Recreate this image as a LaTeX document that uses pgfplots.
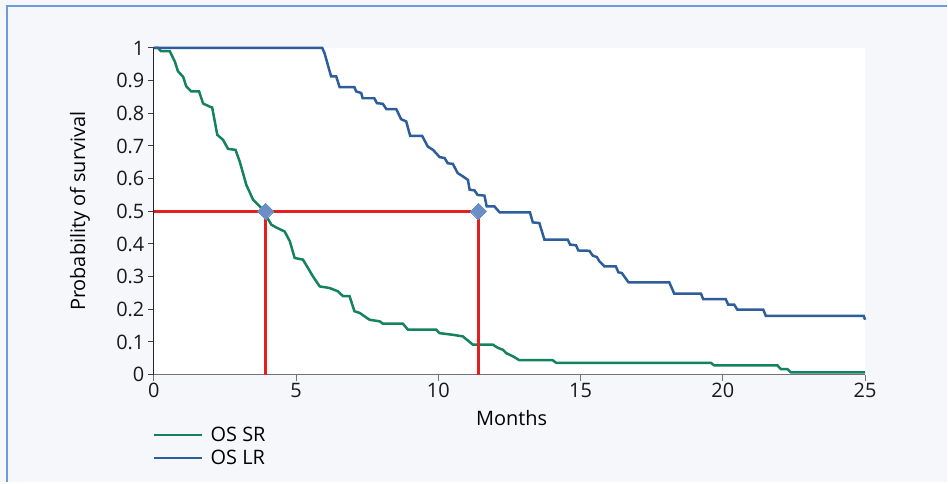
\documentclass[border=0pt]{standalone}
\usepackage{fontspec}
\setmainfont{Open Sans}
\usepackage{pgfplots}
\pgfplotsset{compat=1.18}
\definecolor{bgc}{HTML}{F6F7FB}
\definecolor{framec}{HTML}{6C9BD8}
\definecolor{srgreen}{HTML}{14825F}
\definecolor{lrblue}{HTML}{2D5D9B}
\definecolor{redl}{HTML}{E3201F}
\definecolor{diam}{HTML}{6B8EC6}
\begin{document}
\begin{tikzpicture}
\fill[bgc] (0bp,0bp) rectangle (948bp,483bp);
\draw[framec, line width=2bp] (7bp,0bp) -- (7bp,477bp) -- (948bp,477bp);
\begin{axis}[
  at={(154bp,108bp)}, anchor=south west,
  scale only axis, width=712bp, height=327bp,
  xmin=0, xmax=25, ymin=0, ymax=1,
  axis x line*=bottom, axis y line*=left,
  axis background/.style={fill=white},
  x axis line style={draw=black!55, line width=1.2bp},
  y axis line style={draw=black!85, line width=1.2bp},
  xtick={0,5,10,15,20,25},
  ytick={0,0.1,0.2,0.3,0.4,0.5,0.6,0.7,0.8,0.9,1},
  yticklabels={0,0.1,0.2,0.3,0.4,0.5,0.6,0.7,0.8,0.9,1},
  tick align=outside,
  major tick length=6bp,
  x tick style={draw=black!55, line width=1bp},
  y tick style={draw=black!75, line width=1bp},
  minor tick num=0,
  /pgf/number format/assume math mode=true,
  tick label style={font=\fontsize{20}{24}\selectfont, text=black!90},
  xticklabel style={yshift=1bp},
  xlabel={Months},
  ylabel={Probability of survival},
  xlabel style={at={(rel axis cs:0.503,-0.1315)}, anchor=center, font=\fontsize{20}{24}\selectfont},
  ylabel style={at={(rel axis cs:-0.104,0.5)}, anchor=center, rotate=0, font=\fontsize{20}{24}\selectfont},
  legend style={draw=none, fill=none, at={(rel axis cs:-0.006,-0.149)}, anchor=north west,
    font=\fontsize{20}{24}\selectfont, row sep=4bp,
    nodes={inner sep=1.5bp},
    /tikz/every odd column/.style={column sep=6bp}},
  legend cell align=left,
  legend image code/.code={\draw[#1] (0bp,0bp) -- (48bp,0bp);},
  clip=false,
]
\addplot[srgreen, line width=2.5bp] coordinates {
(0,1.0) (0.15,1.0) (0.25,0.99) (0.56,0.99) (0.74,0.958) (0.85,0.928) (1.03,0.912)
(1.14,0.882) (1.32,0.867) (1.59,0.867) (1.73,0.83) (1.97,0.82) (2.05,0.818)
(2.23,0.734) (2.43,0.719) (2.61,0.691) (2.87,0.688) (3.02,0.652) (3.25,0.581)
(3.49,0.535) (3.72,0.515) (3.93,0.496) (3.96,0.484) (4.13,0.459) (4.31,0.45)
(4.6,0.438) (4.78,0.408) (4.95,0.357) (5.24,0.352) (5.42,0.326) (5.59,0.301)
(5.83,0.27) (6.18,0.265) (6.47,0.255) (6.65,0.24) (6.88,0.24) (7.05,0.194)
(7.23,0.189) (7.58,0.168) (7.94,0.163) (8.05,0.156) (8.75,0.156) (8.93,0.138)
(9.92,0.138) (10.04,0.127) (10.5,0.122) (10.86,0.117) (11.21,0.092) (11.91,0.092)
(12.09,0.082) (12.27,0.076) (12.38,0.066) (12.5,0.061) (12.62,0.056) (12.85,0.044)
(14.02,0.044) (14.14,0.036) (19.58,0.036) (19.7,0.028) (21.92,0.028) (22.04,0.017)
(22.27,0.017) (22.39,0.007) (25,0.007)
};
\addlegendentry{OS SR}
\addplot[lrblue, line width=2.5bp] coordinates {
(0,1.0) (5.92,1.0) (6.0,0.984) (6.23,0.913) (6.41,0.913) (6.53,0.88) (7.05,0.88)
(7.11,0.867) (7.29,0.862) (7.34,0.846) (7.75,0.846) (7.84,0.831) (8.05,0.829)
(8.17,0.813) (8.52,0.813) (8.69,0.782) (8.87,0.775) (9.01,0.731) (9.43,0.731)
(9.63,0.698) (9.81,0.688) (9.92,0.678) (10.04,0.666) (10.22,0.663) (10.33,0.647)
(10.51,0.645) (10.68,0.617) (10.86,0.607) (11.04,0.596) (11.1,0.566) (11.27,0.564)
(11.38,0.55) (11.62,0.548) (11.70,0.515) (11.97,0.515) (12.15,0.497) (13.22,0.497)
(13.32,0.466) (13.55,0.464) (13.73,0.413) (14.55,0.413) (14.63,0.398) (14.84,0.396)
(14.92,0.38) (15.31,0.379) (15.43,0.364) (15.57,0.36) (15.66,0.347) (15.84,0.331)
(16.24,0.331) (16.33,0.313) (16.45,0.311) (16.57,0.296) (16.69,0.282) (18.12,0.282)
(18.29,0.248) (19.23,0.248) (19.31,0.231) (20.1,0.231) (20.19,0.214) (20.4,0.214)
(20.51,0.199) (21.42,0.199) (21.51,0.18) (24.95,0.18) (25,0.168)
};
\addlegendentry{OS LR}
\addplot[redl, line width=2.5bp, forget plot] coordinates {(0,0.5) (11.41,0.5)};
\addplot[redl, line width=2.5bp, forget plot] coordinates {(3.93,0) (3.93,0.5)};
\addplot[redl, line width=2.5bp, forget plot] coordinates {(11.41,0) (11.41,0.5)};
\addplot[diam, only marks, mark=square*, mark size=5.8bp, forget plot,
  mark options={rotate=45, fill=diam, draw=diam, line width=0pt}] coordinates {(3.93,0.5) (11.41,0.5)};
\end{axis}
\end{tikzpicture}
\end{document}
